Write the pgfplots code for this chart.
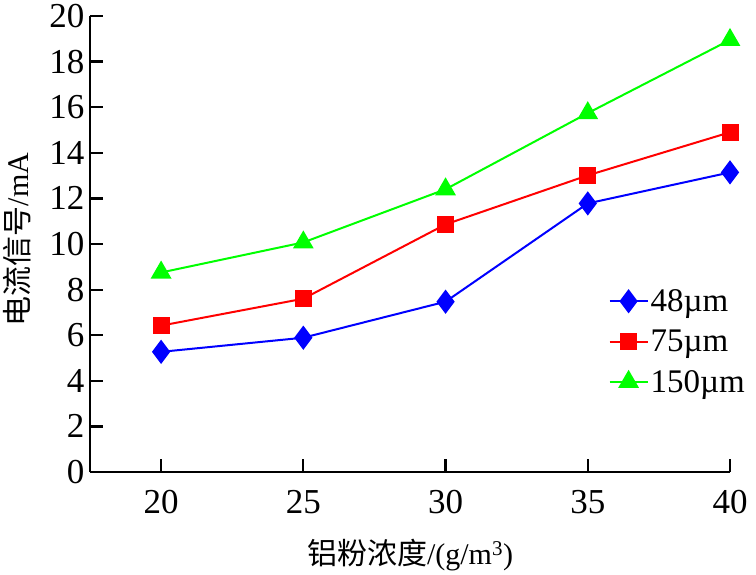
\documentclass[border=0pt]{standalone}
\usepackage{pgfplots}
\pgfplotsset{compat=1.18}
\usepackage{fontspec}
\setmainfont{Liberation Serif}
\newfontfamily\cjk{Noto Sans CJK SC}
\begin{document}
\begin{tikzpicture}
\useasboundingbox (-90pt,-102pt) rectangle (666pt,472pt);
\begin{axis}[
  at={(0,0)}, anchor=south west,
  scale only axis, width=640pt, height=456pt,
  xmin=17.5, xmax=40, ymin=0, ymax=20,
  axis lines*=left,
  axis line style={line width=2.5pt, -},
  xtick={20,25,30,35,40}, ytick={0,2,...,20},
  tick style={line width=2.2pt, black},
  major tick length=13pt,
  tick align=inside,
  /pgf/number format/assume math mode=true,
  tick label style={font=\fontsize{35}{35}\selectfont},
  xticklabel style={yshift=-15pt},
  yticklabel style={xshift=-2pt},
  every axis y label/.style={at={(axis description cs:-0.114,0.51)},anchor=center,rotate=90},
  every axis x label/.style={at={(axis description cs:0.5,-0.183)},anchor=center},
  ylabel={\fontsize{30}{30}\selectfont{\cjk 电流信号}/mA},
  xlabel={\fontsize{30}{30}\selectfont{\cjk 铝粉浓度}/(g/m\textsuperscript{3})},
  legend style={at={(axis description cs:0.81,0.405)}, anchor=north west, draw=none, fill=none,
    font=\fontsize{33}{33}\selectfont, row sep=13pt, inner sep=0pt},
  legend cell align=left,
  legend image code/.code={\draw[#1, line width=2pt] (0pt,0pt) -- (38pt,0pt); \draw[#1, mark repeat=1] plot coordinates {(19pt,0pt)};},
]
\addplot[blue, line width=2pt, mark=diamond*, mark size=10.5pt, mark options={solid, fill=blue}] coordinates {(20,5.27) (25,5.89) (30,7.47) (35,11.78) (40,13.14)};
\addlegendentry{48µm}
\addplot[red, line width=2pt, mark=square*, mark size=7.5pt, mark options={solid, fill=red}] coordinates {(20,6.42) (25,7.6) (30,10.86) (35,13.01) (40,14.9)};
\addlegendentry{75µm}
\addplot[green, line width=2pt, mark=triangle*, mark size=10pt, mark options={solid, fill=green}] coordinates {(20,8.75) (25,10.07) (30,12.4) (35,15.74) (40,18.95)};
\addlegendentry{150µm}
\end{axis}
\end{tikzpicture}
\end{document}
